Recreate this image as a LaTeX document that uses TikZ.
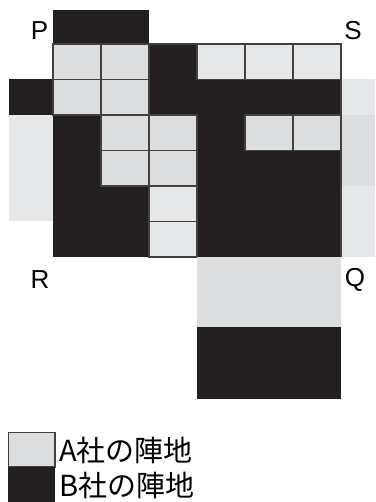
\documentclass[tikz,border=0pt]{standalone}
\usepackage{fontspec}
\setmainfont{Liberation Sans}
\newfontfamily\cjk{Noto Sans CJK JP}
\definecolor{blk}{HTML}{231F20}
\definecolor{gA}{HTML}{DCDDDF}
\definecolor{gL}{HTML}{E6E7E8}
\definecolor{ln}{HTML}{404040}
\begin{document}
\begin{tikzpicture}[x=1pt,y=-1pt,
  cellA/.style={fill=gA,draw=ln,line width=1.3pt},
  cellL/.style={fill=gL,draw=ln,line width=1.3pt},
  lbl/.style={font=\fontsize{26}{26}\selectfont,inner sep=0pt},
  leg/.style={font=\cjk\fontsize{29}{29}\selectfont,inner sep=0pt,anchor=west}]
\useasboundingbox (0,0) rectangle (375,502);
% top black
\fill[blk] (53,10) rectangle (149,44);
% main grid background
\fill[blk] (53,44) rectangle (341,257);
% outside cells
\fill[blk] (9,79.5) rectangle (53,115);
\fill[gL] (9,115) rectangle (53,221.5);
\fill[gL] (341,79.5) rectangle (375,115);
\fill[gA] (341,115) rectangle (375,186);
\fill[gL] (341,186) rectangle (375,257);
% gray cells: col i, row j
\foreach \i/\j in {1/1,2/1,1/2,2/2,2/3,3/3,5/3,6/3,2/4,3/4}
  \draw[cellA] ({53+48*(\i-1)},{44+35.5*(\j-1)}) rectangle ++(48,35.5);
\foreach \i/\j in {4/1,5/1,6/1,3/5,3/6}
  \draw[cellL] ({53+48*(\i-1)},{44+35.5*(\j-1)}) rectangle ++(48,35.5);
\draw[ln,line width=1.3pt] (149,44) -- (341,44) -- (341,257);
% lower block
\fill[gA] (197,257) rectangle (341,327);
\fill[blk] (197,327) rectangle (341,399);
% labels
\node[lbl] (P) at (39.5,31) {P};
\node[lbl] (S) at (353,31) {S};
\node[lbl] (R) at (40,280) {R};
\node[lbl] (Q) at (355,280) {Q};
% legend
\draw[fill=gA,draw=ln,line width=1.3pt] (8.5,432.5) rectangle (55,467);
\fill[blk] (8,467) rectangle (55,502);
\node[leg] (la) at (59,450) {A社の陣地};
\node[leg] (lb) at (59,485) {B社の陣地};
\end{tikzpicture}
\end{document}
